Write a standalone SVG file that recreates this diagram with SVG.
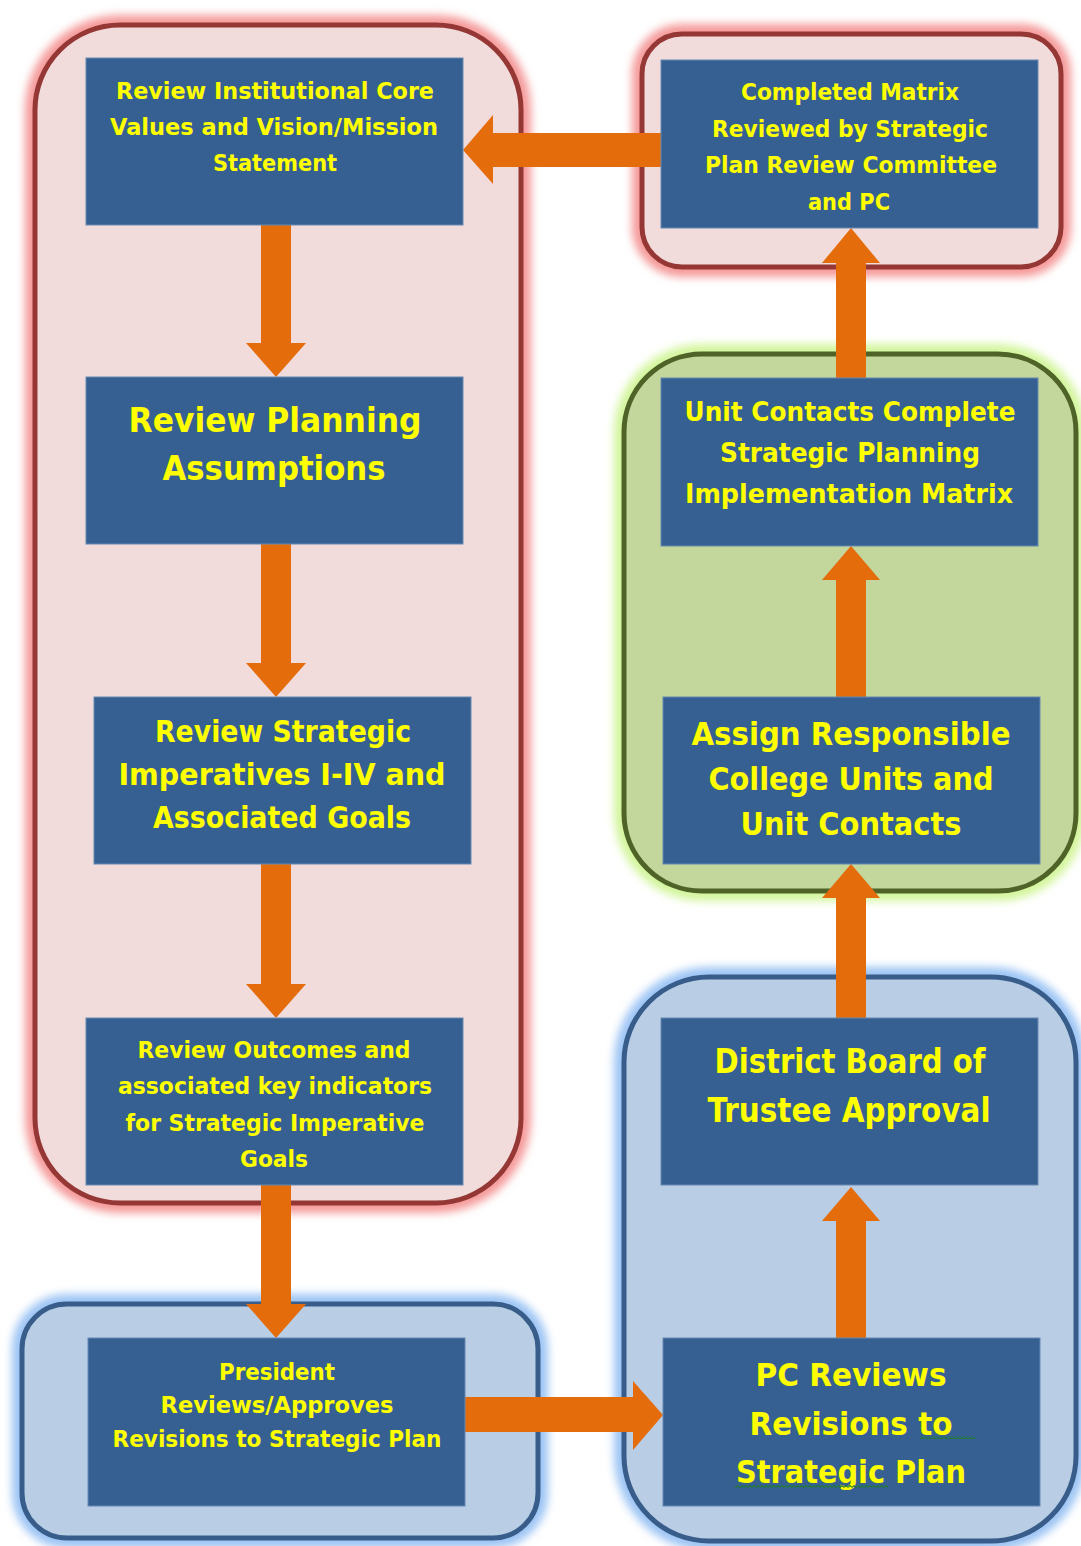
<svg xmlns="http://www.w3.org/2000/svg" width="1081" height="1546" viewBox="0 0 1081 1546">
  <defs>
    <filter id="soft" x="-10%" y="-10%" width="120%" height="120%">
      <feGaussianBlur stdDeviation="4"/>
    </filter>
    <pattern id="squiggle" width="4" height="3" patternUnits="userSpaceOnUse">
      <path d="M0,2.4 L2,0.6 L4,2.4" fill="none" stroke="#1f7a2e" stroke-width="1.1"/>
    </pattern>
    <style>
      .glow { fill: none; stroke-width: 20; filter: url(#soft); }
      .pink-glow { stroke: #f59a9a; }
      .green-glow { stroke: #d3f59c; }
      .blue-glow { stroke: #9cc4f4; }
      .pink { fill: #f2dcdb; stroke: #953735; stroke-width: 5; }
      .green { fill: #c3d69b; stroke: #4f6228; stroke-width: 5; }
      .blue { fill: #b9cde5; stroke: #385d8a; stroke-width: 5; }
      .box { fill: #366092; stroke: #6688b2; stroke-width: 1; }
      .label { font-family: "DejaVu Sans", "Liberation Sans", sans-serif; font-weight: bold; fill: #ffff00; text-anchor: middle; }
      .s { font-size: 23px; }
      .arrow { fill: #e46c0a; }
    </style>
  </defs>

  <rect width="1081" height="1546" fill="#ffffff"/>

  <!-- Group containers -->
  <g id="containers">
    <rect class="glow pink-glow" x="35" y="25" width="486" height="1178" rx="85"/>
    <rect class="pink" x="35" y="25" width="486" height="1178" rx="85"/>

    <rect class="glow pink-glow" x="642" y="34" width="419" height="233" rx="40"/>
    <rect class="pink" x="642" y="34" width="419" height="233" rx="40"/>

    <rect class="glow green-glow" x="624" y="354" width="452" height="537" rx="78"/>
    <rect class="green" x="624" y="354" width="452" height="537" rx="78"/>

    <rect class="glow blue-glow" x="624" y="977" width="452" height="564" rx="85"/>
    <rect class="blue" x="624" y="977" width="452" height="564" rx="85"/>

    <rect class="glow blue-glow" x="22" y="1304" width="516" height="234" rx="45"/>
    <rect class="blue" x="22" y="1304" width="516" height="234" rx="45"/>
  </g>

  <!-- Flow arrows -->
  <g id="connectors">
    <!-- matrix review -> core values (left) -->
    <polygon class="arrow" points="661,133 493,133 493,115 463,150 493,184 493,167 661,167"/>
    <!-- core values -> planning assumptions -->
    <polygon class="arrow" points="261,225 291,225 291,343 306,343 276,377 246,343 261,343"/>
    <!-- planning assumptions -> strategic imperatives -->
    <polygon class="arrow" points="261,544 291,544 291,663 306,663 276,697 246,663 261,663"/>
    <!-- strategic imperatives -> outcomes -->
    <polygon class="arrow" points="261,864 291,864 291,984 306,984 276,1018 246,984 261,984"/>
    <!-- outcomes -> president -->
    <polygon class="arrow" points="261,1185 291,1185 291,1304 306,1304 276,1338 246,1304 261,1304"/>
    <!-- president -> PC reviews (right) -->
    <polygon class="arrow" points="465,1397 633,1397 633,1381 663,1415 633,1450 633,1432 465,1432"/>
    <!-- PC reviews -> board approval -->
    <polygon class="arrow" points="836,1338 866,1338 866,1221 880,1221 851,1187 822,1221 836,1221"/>
    <!-- board approval -> assign units -->
    <polygon class="arrow" points="836,1018 866,1018 866,898 880,898 851,864 822,898 836,898"/>
    <!-- assign units -> unit contacts complete -->
    <polygon class="arrow" points="836,697 866,697 866,580 880,580 851,546 822,580 836,580"/>
    <!-- unit contacts complete -> matrix review -->
    <polygon class="arrow" points="836,379 866,379 866,263 880,263 851,228 822,263 836,263"/>
  </g>

  <g id="node-core-values">
    <rect class="box" x="86" y="58" width="377" height="167"/>
    <text class="label s" x="275" y="99" textLength="318" lengthAdjust="spacingAndGlyphs">Review Institutional Core</text>
    <text class="label s" x="274" y="135" textLength="328" lengthAdjust="spacingAndGlyphs">Values and Vision/Mission</text>
    <text class="label s" x="275" y="171" textLength="124" lengthAdjust="spacingAndGlyphs">Statement</text>
  </g>

  <g id="node-planning-assumptions">
    <rect class="box" x="86" y="377" width="377" height="167"/>
    <text class="label" font-size="34" x="275" y="432" textLength="293" lengthAdjust="spacingAndGlyphs">Review Planning</text>
    <text class="label" font-size="34" x="274" y="480" textLength="223" lengthAdjust="spacingAndGlyphs">Assumptions</text>
  </g>

  <g id="node-strategic-imperatives">
    <rect class="box" x="94" y="697" width="377" height="167"/>
    <text class="label" font-size="30" x="283" y="742" textLength="256" lengthAdjust="spacingAndGlyphs">Review Strategic</text>
    <text class="label" font-size="30" x="282" y="785" textLength="327" lengthAdjust="spacingAndGlyphs">Imperatives I-IV and</text>
    <text class="label" font-size="30" x="282" y="828" textLength="258" lengthAdjust="spacingAndGlyphs">Associated Goals</text>
  </g>

  <g id="node-outcomes">
    <rect class="box" x="86" y="1018" width="377" height="167"/>
    <text class="label s" x="274" y="1058" textLength="273" lengthAdjust="spacingAndGlyphs">Review Outcomes and</text>
    <text class="label s" x="275" y="1094" textLength="314" lengthAdjust="spacingAndGlyphs">associated key indicators</text>
    <text class="label s" x="275" y="1131" textLength="299" lengthAdjust="spacingAndGlyphs">for Strategic Imperative</text>
    <text class="label s" x="274" y="1167" textLength="68" lengthAdjust="spacingAndGlyphs">Goals</text>
  </g>

  <g id="node-president">
    <rect class="box" x="88" y="1338" width="377" height="168"/>
    <text class="label s" x="277" y="1380" textLength="116" lengthAdjust="spacingAndGlyphs">President</text>
    <text class="label s" x="277" y="1413" textLength="233" lengthAdjust="spacingAndGlyphs">Reviews/Approves</text>
    <text class="label s" x="277" y="1447" textLength="329" lengthAdjust="spacingAndGlyphs">Revisions to Strategic Plan</text>
  </g>

  <g id="node-matrix-review">
    <rect class="box" x="661" y="60" width="377" height="168"/>
    <text class="label s" x="850" y="100" textLength="218" lengthAdjust="spacingAndGlyphs">Completed Matrix</text>
    <text class="label s" x="850" y="137" textLength="276" lengthAdjust="spacingAndGlyphs">Reviewed by Strategic</text>
    <text class="label s" x="851" y="173" textLength="292" lengthAdjust="spacingAndGlyphs">Plan Review Committee</text>
    <text class="label s" x="849" y="210" textLength="82" lengthAdjust="spacingAndGlyphs">and PC</text>
  </g>

  <g id="node-unit-contacts-complete">
    <rect class="box" x="661" y="378" width="377" height="168"/>
    <text class="label" font-size="27" x="850" y="421" textLength="331" lengthAdjust="spacingAndGlyphs">Unit Contacts Complete</text>
    <text class="label" font-size="27" x="850" y="462" textLength="260" lengthAdjust="spacingAndGlyphs">Strategic Planning</text>
    <text class="label" font-size="27" x="849" y="503" textLength="328" lengthAdjust="spacingAndGlyphs">Implementation Matrix</text>
  </g>

  <g id="node-assign-units">
    <rect class="box" x="663" y="697" width="377" height="167"/>
    <text class="label" font-size="32" x="851" y="745" textLength="319" lengthAdjust="spacingAndGlyphs">Assign Responsible</text>
    <text class="label" font-size="32" x="851" y="790" textLength="285" lengthAdjust="spacingAndGlyphs">College Units and</text>
    <text class="label" font-size="32" x="851" y="835" textLength="221" lengthAdjust="spacingAndGlyphs">Unit Contacts</text>
  </g>

  <g id="node-board-approval">
    <rect class="box" x="661" y="1018" width="377" height="167"/>
    <text class="label" font-size="33" x="850" y="1073" textLength="271" lengthAdjust="spacingAndGlyphs">District Board of</text>
    <text class="label" font-size="33" x="849" y="1122" textLength="283" lengthAdjust="spacingAndGlyphs">Trustee Approval</text>
  </g>

  <g id="node-pc-reviews">
    <rect class="box" x="663" y="1338" width="377" height="168"/>
    <text class="label" font-size="32" x="851" y="1386" textLength="191" lengthAdjust="spacingAndGlyphs">PC Reviews</text>
    <text class="label" font-size="32" x="851" y="1435" textLength="203" lengthAdjust="spacingAndGlyphs">Revisions to</text>
    <text class="label" font-size="32" x="851" y="1483" textLength="230" lengthAdjust="spacingAndGlyphs">Strategic Plan</text>
    <!-- proofing marks under words -->
    <rect x="920" y="1436" width="55" height="3" fill="url(#squiggle)"/>
    <rect x="735" y="1485" width="153" height="3" fill="url(#squiggle)"/>
  </g>
</svg>
